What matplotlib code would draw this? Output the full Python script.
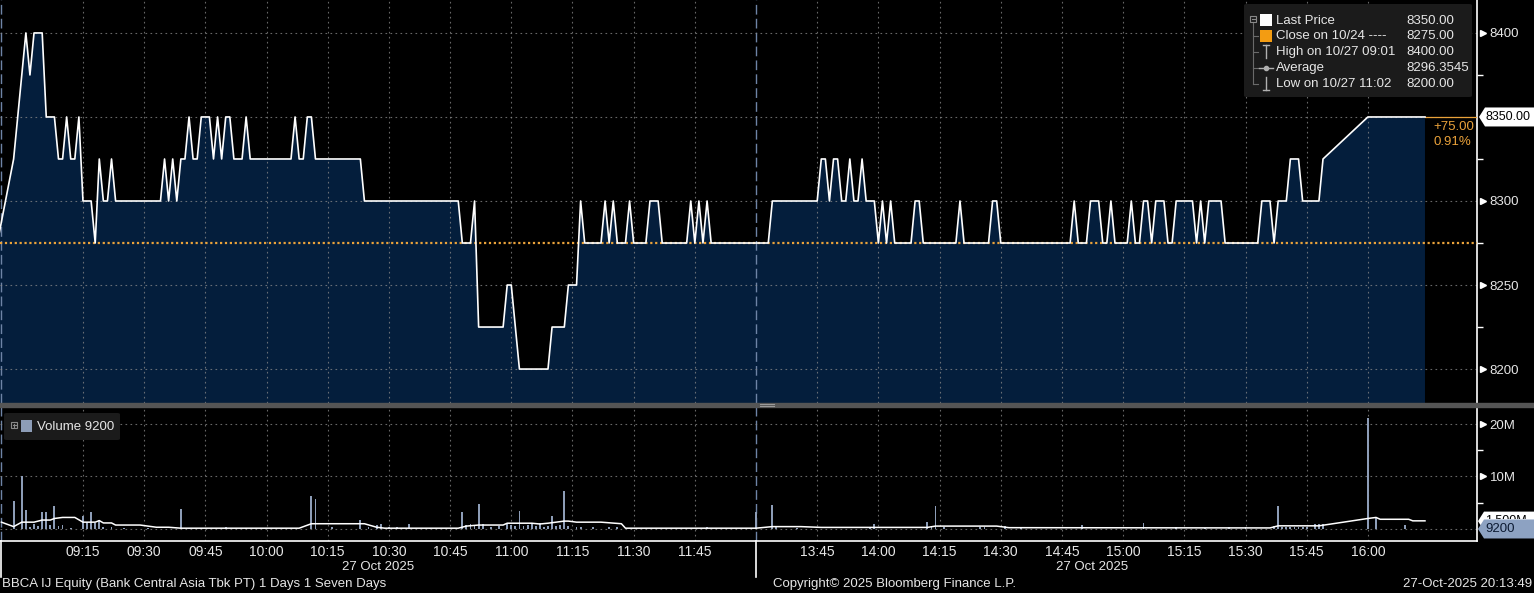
import matplotlib
matplotlib.use("Agg")
import matplotlib.pyplot as plt
from matplotlib.lines import Line2D
from matplotlib.patches import Rectangle, FancyBboxPatch, Polygon
from matplotlib.transforms import IdentityTransform, blended_transform_factory, Bbox

plt.rcParams['font.family'] = ['Liberation Sans', 'DejaVu Sans']

# ---- data ----
price_times = ["08:54", "08:58", "09:01", "09:02", "09:03", "09:05", "09:06", "09:08", "09:09", "09:10",
               "09:11", "09:12", "09:13", "09:14", "09:15", "09:17", "09:18", "09:19", "09:20", "09:21",
               "09:22", "09:23", "09:34", "09:35", "09:36", "09:37", "09:38", "09:39", "09:40", "09:41",
               "09:42", "09:43", "09:44", "09:46", "09:47", "09:48", "09:49", "09:50", "09:51", "09:52",
               "09:54", "09:55", "09:56", "10:06", "10:07", "10:08", "10:09", "10:10", "10:11", "10:12",
               "10:23", "10:24", "10:47", "10:48", "10:50", "10:51", "10:52", "10:58", "10:59", "11:00",
               "11:02", "11:09", "11:10", "11:13", "11:14", "11:16", "11:17", "11:18", "11:22", "11:23",
               "11:24", "11:25", "11:26", "11:28", "11:29", "11:30", "11:33", "11:34", "11:36", "11:37",
               "11:43", "11:44", "11:45", "11:46", "11:47", "11:48", "11:49",
               "13:33", "13:34", "13:45", "13:46", "13:47", "13:48", "13:49", "13:50", "13:51", "13:52",
               "13:53", "13:54", "13:55", "13:56", "13:57", "13:59", "14:00", "14:01", "14:02", "14:03",
               "14:04", "14:08", "14:09", "14:10", "14:11", "14:19", "14:20", "14:21", "14:27", "14:28",
               "14:29", "14:30", "14:47", "14:48", "14:49", "14:51", "14:52", "14:54", "14:55", "14:56",
               "14:57", "14:58", "15:01", "15:02", "15:03", "15:04", "15:05", "15:06", "15:07", "15:08",
               "15:10", "15:11", "15:12", "15:13", "15:17", "15:18", "15:19", "15:20", "15:21", "15:24",
               "15:25", "15:33", "15:34", "15:36", "15:37", "15:38", "15:40", "15:41", "15:43", "15:44",
               "15:48", "15:49", "16:00", "16:14"]
price_vals = [8275, 8325, 8400, 8375, 8400, 8400, 8350, 8350, 8325, 8325,
              8350, 8325, 8325, 8350, 8300, 8300, 8275, 8325, 8300, 8300,
              8325, 8300, 8300, 8325, 8300, 8325, 8300, 8325, 8325, 8350,
              8325, 8325, 8350, 8350, 8325, 8350, 8325, 8350, 8350, 8325,
              8325, 8350, 8325, 8325, 8350, 8325, 8325, 8350, 8350, 8325,
              8325, 8300, 8300, 8275, 8275, 8300, 8225, 8225, 8250, 8250,
              8200, 8200, 8225, 8225, 8250, 8250, 8300, 8275, 8275, 8300,
              8275, 8300, 8275, 8275, 8300, 8275, 8275, 8300, 8300, 8275,
              8275, 8300, 8275, 8300, 8275, 8300, 8275,
              8275, 8300, 8300, 8325, 8325, 8300, 8325, 8325, 8300, 8300,
              8325, 8300, 8300, 8325, 8300, 8300, 8275, 8300, 8275, 8300,
              8275, 8275, 8300, 8300, 8275, 8275, 8300, 8275, 8275, 8300,
              8300, 8275, 8275, 8300, 8275, 8275, 8300, 8300, 8275, 8275,
              8300, 8275, 8275, 8300, 8275, 8275, 8300, 8300, 8275, 8300,
              8300, 8275, 8275, 8300, 8300, 8275, 8300, 8275, 8300, 8300,
              8275, 8275, 8300, 8300, 8275, 8300, 8300, 8325, 8325, 8300,
              8300, 8325, 8350, 8350]
prev_close = 8275

vol_times = ["08:58", "09:00", "09:01", "09:02", "09:03", "09:04", "09:05", "09:06", "09:07", "09:08",
             "09:09", "09:10", "09:12", "09:15", "09:16", "09:17", "09:18", "09:19", "09:20", "09:22",
             "09:25", "09:31", "09:39", "09:41", "09:44", "09:50", "09:55", "10:04", "10:11", "10:12",
             "10:16", "10:23", "10:25", "10:27", "10:28", "10:30", "10:32", "10:35", "10:40", "10:48",
             "10:49", "10:50", "10:51", "10:52", "10:53", "10:55", "10:57", "10:59", "11:00", "11:01",
             "11:02", "11:03", "11:04", "11:05", "11:06", "11:07", "11:08", "11:09", "11:10", "11:11",
             "11:12", "11:13", "11:14", "11:16", "11:17", "11:20", "11:24", "11:26", "11:48", "13:30",
             "13:34", "13:35", "13:40", "13:58", "13:59", "14:12", "14:13", "14:14", "14:16", "14:25",
             "14:26", "14:31", "14:35", "14:50", "15:05", "15:13", "15:20", "15:26", "15:30", "15:37",
             "15:38", "15:39", "15:40", "15:41", "15:42", "15:43", "15:44", "15:45", "15:47", "15:48",
             "15:49", "16:00", "16:02", "16:09"]
vol_vals = [5.3, 10.1, 3.6, 0.4, 1.0, 0.6, 3.25, 3.25, 0.8, 4.4,
            0.6, 0.8, 0.2, 2.5, 1.4, 3.25, 1.1, 1.7, 0.4, 0.3,
            0.2, 0.2, 3.8, 0.2, 0.2, 0.3, 0.2, 0.2, 6.3, 5.7,
            0.3, 1.7, 0.3, 0.8, 1.0, 0.4, 0.4, 1.0, 0.2, 3.25,
            0.8, 1.0, 0.8, 4.8, 1.0, 0.4, 0.5, 1.1, 0.8, 0.5,
            3.4, 0.6, 0.8, 1.0, 0.5, 1.1, 0.4, 0.6, 2.5, 0.6,
            0.8, 7.3, 0.5, 0.3, 0.4, 0.3, 0.3, 0.3, 0.4, 3.25,
            4.6, 0.4, 0.2, 0.3, 1.0, 1.4, 0.4, 4.3, 0.3, 0.4,
            0.3, 0.5, 0.3, 0.8, 1.2, 0.4, 0.2, 0.3, 0.3, 0.5,
            4.45, 0.3, 0.3, 0.3, 0.3, 0.3, 0.3, 0.3, 1.0, 1.0,
            1.0, 21.2, 2.2, 0.8]

avg_times = ["08:55", "08:58", "09:00", "09:03", "09:05", "09:07", "09:08", "09:10", "09:13", "09:15",
             "09:18", "09:19", "09:20", "09:22", "09:23", "09:29", "09:33", "09:36", "09:39", "10:08",
             "10:11", "10:24", "10:27", "10:29", "10:47", "10:49", "10:52", "10:58", "10:59", "11:05",
             "11:07", "11:09", "11:13", "11:14", "11:16", "11:22", "11:27", "11:28", "12:00", "13:34",
             "13:41", "13:46", "14:12", "14:14", "14:29", "14:32", "15:36", "15:38", "15:48", "16:00",
             "16:02", "16:03", "16:10", "16:11", "16:14"]
avg_vals = [1.3, 0.45, 1.3, 1.3, 1.7, 1.7, 2.0, 2.2, 2.2, 1.3,
            1.3, 1.6, 1.15, 1.15, 0.75, 0.75, 0.33, 0.33, 0.15, 0.15,
            1.0, 1.0, 0.33, 0.15, 0.15, 0.55, 0.75, 0.75, 1.1, 1.1,
            0.95, 1.1, 1.5, 1.5, 1.3, 1.3, 1.0, 0.15, 0.15, 0.45,
            0.45, 0.3, 0.3, 0.55, 0.55, 0.25, 0.2, 0.6, 0.6, 2.0,
            2.2, 1.85, 1.85, 1.55, 1.55]

tick_labels = ["09:15", "09:30", "09:45", "10:00", "10:15", "10:30", "10:45", "11:00", "11:15",
               "11:30", "11:45", "13:45", "14:00", "14:15", "14:30", "14:45", "15:00", "15:15",
               "15:30", "15:45", "16:00"]
session_starts = ["08:55", "13:30"]

W, H = 1534, 593
NAVY = '#041e3c'
ORANGE = '#eaa23a'
TXT = '#e6e6e6'
GRID = '#8a8a8a'
BAR = '#8d9db7'


def tpos(s):
    # minutes after 09:00, lunch break (12:00-13:30) removed
    h, m = map(int, s.split(':'))
    mins = h * 60 + m - 540
    if mins > 180:
        mins -= 90
    return mins


def fx(x):
    return x / W


def fy(y):
    return 1 - y / H


def pxline(x1, y1, x2, y2, color, lw=1.0):
    fig.add_artist(Line2D([fx(x1), fx(x2)], [fy(y1), fy(y2)], transform=fig.transFigure,
                          color=color, lw=lw, zorder=5))


fig = plt.figure(figsize=(W / 100, H / 100), dpi=100, facecolor='black')
ax_p = fig.add_axes([0, fy(403), 1477 / W, 403 / H])
ax_v = fig.add_axes([0, fy(541), 1477 / W, 134 / H])

xmin, xmax = -5.34, 356.75
tick_pos = [tpos(t) for t in tick_labels]

for ax in (ax_p, ax_v):
    ax.set_facecolor('black')
    ax.set_xlim(xmin, xmax)
    for s in ('top', 'left', 'bottom'):
        ax.spines[s].set_visible(False)
    ax.spines['right'].set_color('white')
    ax.spines['right'].set_linewidth(1.2)
    for p in tick_pos:
        ax.axvline(p, color=GRID, ls=(0, (1.5, 3)), lw=0.8, alpha=0.75, zorder=2)
    for s in session_starts:
        ax.axvline(tpos(s), color='#6e84a6', ls=(0, (7, 3)), lw=1.0, zorder=2)
    ax.yaxis.tick_right()
    ax.tick_params(axis='y', which='major', length=0, pad=9, colors=TXT, labelsize=9.5)
    ax.tick_params(axis='y', which='minor', length=4, width=1, color='white', direction='out')

ax_v.spines['bottom'].set_visible(True)
ax_v.spines['bottom'].set_color('white')
ax_v.spines['bottom'].set_linewidth(1.2)

# ---- price panel ----
xp = [tpos(t) for t in price_times]
ax_p.set_ylim(8179.8, 8419.6)
ax_p.fill_between(xp, price_vals, 8000, color=NAVY, lw=0, zorder=1)
ax_p.plot(xp, price_vals, color='white', lw=1.2, zorder=4)
ax_p.axhline(prev_close, color=ORANGE, ls=(0, (1, 1.2)), lw=1.6, zorder=3)
ax_p.plot([xp[-1], xmax], [price_vals[-1], price_vals[-1]], color=ORANGE, lw=0.9, zorder=3)
for v in [8200, 8250, 8300, 8350, 8400]:
    ax_p.axhline(v, color=GRID, ls=(0, (1.5, 3)), lw=0.8, alpha=0.75, zorder=2)
ax_p.set_xticks([])
ax_p.set_yticks([8200, 8250, 8300, 8400])
ax_p.set_yticks([8225, 8275, 8325, 8375], minor=True)
ax_p.set_yticklabels(['8200', '8250', '8300', '8400'])
tr_p = blended_transform_factory(ax_p.transAxes, ax_p.transData)
ax_p.plot([1 + 6 / 1477] * 4, [8200, 8250, 8300, 8400], ls='none', marker='>', ms=5,
          color='white', transform=tr_p, clip_on=False)

# ---- volume panel ----
xv = [tpos(t) for t in vol_times]
ax_v.set_ylim(-2.29, 23.24)
for v in [0, 10, 20]:
    ax_v.axhline(v, color=GRID, ls=(0, (1.5, 3)), lw=0.8, alpha=0.75, zorder=2)
ax_v.bar(xv, vol_vals, width=0.45, color=BAR, zorder=3)
ax_v.plot([tpos(t) for t in avg_times], avg_vals, color='white', lw=1.1, zorder=4)
ax_v.set_yticks([10, 20])
ax_v.set_yticklabels(['10M', '20M'])
ax_v.set_yticks([5, 15], minor=True)
tr_v = blended_transform_factory(ax_v.transAxes, ax_v.transData)
ax_v.plot([1 + 6 / 1477] * 2, [10, 20], ls='none', marker='>', ms=5,
          color='white', transform=tr_v, clip_on=False)
ax_v.set_xticks(tick_pos)
ax_v.set_xticklabels(tick_labels)
ax_v.tick_params(axis='x', length=0, pad=3, colors=TXT, labelsize=10)


# ---- value tags on right axis ----
def tag(ax, val, text, fc, tc, x0=1480, size=9.5):
    yd = ax.transData.transform((0, val))[1]
    h = 9.5
    pts = [(x0, yd), (x0 + 6, yd + h), (W, yd + h), (W, yd - h), (x0 + 6, yd - h)]
    fig.add_artist(Polygon(pts, closed=True, transform=IdentityTransform(), fc=fc, ec='none', zorder=6))
    t = fig.text((x0 + 7) / W, yd / H, text, color=tc, va='center', ha='left', fontsize=size, zorder=7)
    return yd, t


yd_last, _ = tag(ax_p, price_vals[-1], '%.2f' % price_vals[-1], 'white', 'black', x0=1479, size=9)
chg = price_vals[-1] - prev_close
fig.text(fx(1433), (yd_last - 10) / H, '+%.2f' % chg, color=ORANGE, fontsize=9.5, va='center')
fig.text(fx(1433), (yd_last - 25) / H, '%.2f%%' % (chg / prev_close * 100), color=ORANGE,
         fontsize=9.5, va='center')
yd_avg, t_avg = tag(ax_v, avg_vals[-1] - 0.05, '1.500M', 'white', 'black', x0=1478, size=9)
yd_zero, _ = tag(ax_v, 0, '9200', '#8da2c2', '#0d1b33', x0=1478, size=9.5)
# the average tag is mostly hidden behind the volume tag
t_avg.set_clip_box(Bbox.from_extents(0, yd_zero + 9.5, W, H))
t_avg.set_clip_on(True)

# separator between panels
fig.add_artist(Rectangle((0, fy(407)), 1, 4 / H, transform=fig.transFigure, color='#555555', zorder=5))
pxline(760, 403.5, 774, 403.5, '#9a9a9a', 0.8)
pxline(760, 405.5, 774, 405.5, '#9a9a9a', 0.8)

# long session ticks under the time axis
for s in session_starts:
    xd = ax_v.transData.transform((tpos(s), 0))[0]
    fig.add_artist(Line2D([xd, xd], [H - 541, H - 577], transform=IdentityTransform(),
                          color='white', lw=1.2, zorder=5))

# ---- price legend ----
fig.add_artist(FancyBboxPatch((fx(1244), fy(97)), 228 / W, 93 / H,
                              boxstyle='round,pad=0,rounding_size=0.002', transform=fig.transFigure,
                              fc='#1b1b1b', ec='none', zorder=4))
rows = [20.5, 36, 52, 68, 84]
labels = ['Last Price', 'Close on 10/24 ----', 'High on 10/27 09:01', 'Average', 'Low on 10/27 11:02']
values = ['8350.00', '8275.00', '8400.00', '8296.3545', '8200.00']
for yy, lab, val in zip(rows, labels, values):
    fig.text(fx(1276), fy(yy), lab, color=TXT, fontsize=9.5, va='center', zorder=6)
    fig.text(fx(1406), fy(yy), val, color=TXT, fontsize=9.5, va='center', zorder=6)
# tree and icons
fig.add_artist(Rectangle((fx(1250), fy(22)), 6 / W, 6 / H, transform=fig.transFigure,
                         fc='none', ec='#8a8a8a', lw=0.8, zorder=6))
pxline(1251.5, 19, 1254.5, 19, '#8a8a8a', 0.8)
pxline(1253, 22, 1253, 84, '#6a6a6a', 0.8)
for yy in rows[1:]:
    pxline(1253, yy, 1258, yy, '#6a6a6a', 0.8)
fig.add_artist(Rectangle((fx(1260), fy(26)), 12 / W, 12 / H, transform=fig.transFigure,
                         fc='white', ec='none', zorder=6))
fig.add_artist(Rectangle((fx(1260), fy(42)), 12 / W, 12 / H, transform=fig.transFigure,
                         fc='#f39c12', ec='none', zorder=6))
pxline(1263, 45, 1269, 45, '#b0b0b0', 1)
pxline(1266, 45, 1266, 58, '#b0b0b0', 1)
pxline(1259, 68, 1273, 68, '#b0b0b0', 1)
fig.add_artist(Line2D([fx(1266)], [fy(68)], transform=fig.transFigure, marker='o', ms=3,
                      color='#b0b0b0', zorder=6))
pxline(1266, 77, 1266, 90, '#b0b0b0', 1)
pxline(1263, 90, 1269, 90, '#b0b0b0', 1)

# ---- volume legend ----
fig.add_artist(FancyBboxPatch((fx(4), fy(440)), 116 / W, 27 / H,
                              boxstyle='round,pad=0,rounding_size=0.002', transform=fig.transFigure,
                              fc='#1b1b1b', ec='none', zorder=4))
fig.add_artist(Rectangle((fx(11), fy(428)), 6 / W, 6 / H, transform=fig.transFigure,
                         fc='none', ec='#8a8a8a', lw=0.8, zorder=6))
pxline(12.5, 425, 15.5, 425, '#8a8a8a', 0.8)
pxline(14, 423.5, 14, 426.5, '#8a8a8a', 0.8)
fig.add_artist(Rectangle((fx(21), fy(432)), 11 / W, 12 / H, transform=fig.transFigure,
                         fc=BAR, ec='none', zorder=6))
fig.text(fx(37), fy(427), 'Volume 9200', color=TXT, fontsize=9.5, va='center', zorder=6)

# ---- dates and footer ----
fig.text(fx(378), fy(567), '27 Oct 2025', color=TXT, fontsize=9.5, ha='center', va='center')
fig.text(fx(1092), fy(567), '27 Oct 2025', color=TXT, fontsize=9.5, ha='center', va='center')
fig.text(fx(2), fy(584), 'BBCA IJ Equity (Bank Central Asia Tbk PT) 1 Days 1 Seven Days',
         color=TXT, fontsize=9.5, va='center')
fig.text(fx(773), fy(584), 'Copyright\u00a9 2025 Bloomberg Finance L.P.', color=TXT, fontsize=9.5,
         va='center')
fig.text(fx(1532), fy(584), '27-Oct-2025 20:13:49', color=TXT, fontsize=9.5, va='center', ha='right')

fig.savefig('out.png', dpi=100, facecolor='black')
